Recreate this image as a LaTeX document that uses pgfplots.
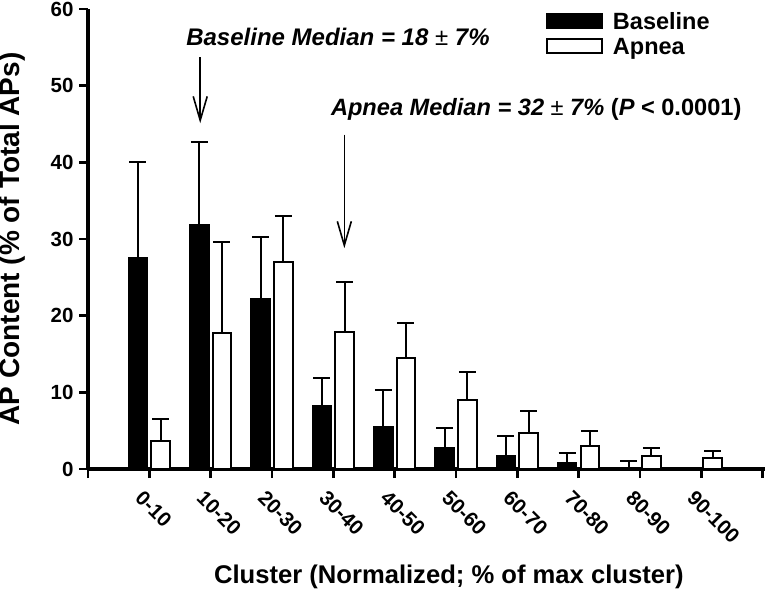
\documentclass[border=0pt]{standalone}
\usepackage{pgfplots}
\pgfplotsset{compat=1.18}
\usepackage{pgfplotstable}
\usepackage{fontspec}
\setmainfont{Liberation Sans}
\usetikzlibrary{arrows.meta}

\pgfplotstableread{
xb xa base berr apn aerr
-0.185 0.185 27.5 12.5 3.7 2.86
0.815 1.185 31.8 10.9 17.7 11.9
1.815 2.185 22.2 8.0 27.0 6.0
2.815 3.185 8.25 3.65 17.9 6.5
3.815 4.185 5.5 4.8 14.5 4.6
4.815 5.185 2.7 2.7 9.0 3.6
5.815 6.185 1.74 2.56 4.73 2.87
6.815 7.185 0.74 1.36 3.0 2.0
7.815 8.185 0.1 0.94 1.7 1.1
8.815 9.185 0.05 0 1.47 0.88
}\datatable

\begin{document}
\begin{tikzpicture}
\begin{axis}[
  name=ax,
  scale only axis, width=677pt, height=460pt,
  xmin=-1, xmax=10.04, ymin=0, ymax=60,
  axis x line*=bottom, axis y line*=left,
  axis line style={-, line width=3.2pt, black},
  x axis line style={-, line width=3.2pt},
  y axis line style={-, line width=3.2pt},
  xtick={-1,0,...,10},
  xticklabels={,0-10,10-20,20-30,30-40,40-50,50-60,60-70,70-80,80-90,90-100,},
  ytick={0,10,...,60},
  tick align=outside, major tick length=9pt,
  tick style={line width=2.8pt, black},
  /pgf/number format/assume math mode=true,
  yticklabel style={font=\fontsize{20.5}{20.5}\selectfont\bfseries, xshift=-2pt},
  xticklabel style={font=\fontsize{20.5}{20.5}\selectfont\bfseries, yshift=-11pt, xshift=-5pt, rotate=-45, anchor=north west, inner sep=0pt},
  every axis y label/.style={at={(axis description cs:-0.1123,0.5)}, rotate=90, anchor=center, font=\fontsize{28}{28}\selectfont\bfseries},
  every axis x label/.style={at={(axis description cs:0.533,-0.235)}, anchor=center, font=\fontsize{25.6}{25.6}\selectfont\bfseries},
  ylabel={AP Content (\% of Total APs)},
  xlabel={Cluster (Normalized; \% of max cluster)},
  legend style={at={(axis description cs:0.6765,0.998)}, anchor=north west, draw=none, fill=none,
    font=\fontsize{23.5}{23.5}\selectfont\bfseries, inner sep=0pt, row sep=5pt,
    nodes={inner sep=2pt, text depth=0pt}},
  legend cell align=left,
]
\addplot[ybar, bar width=18.5pt, bar shift=0pt, fill=black, draw=black, line width=2pt,
  legend image code/.code={\draw[fill=black, draw=black, line width=1.8pt] (0pt,-7pt) rectangle (55pt,7pt);},
  error bars/.cd, y dir=plus, y explicit,
  error bar style={line width=2pt, black},
  error mark options={rotate=90, line width=2pt, black, mark size=8.5pt}]
  table[x=xb, y=base, y error=berr] {\datatable};
\addlegendentry{\hspace*{8pt}Baseline}
\addplot[ybar, bar width=18.5pt, bar shift=0pt, fill=white, draw=black, line width=2pt,
  legend image code/.code={\draw[fill=white, draw=black, line width=1.8pt] (0pt,-7pt) rectangle (55pt,7pt);},
  error bars/.cd, y dir=plus, y explicit,
  error bar style={line width=2pt, black},
  error mark options={rotate=90, line width=2pt, black, mark size=8.5pt}]
  table[x=xa, y=apn, y error=aerr] {\datatable};
\addlegendentry{\hspace*{8pt}Apnea}
\node[anchor=base west, inner sep=0pt, font=\fontsize{24}{24}\selectfont\bfseries\itshape] at (axis cs:0.6,55.3) {Baseline Median = 18 {\upshape\mdseries ±} 7\%};
\node[anchor=base west, inner sep=0pt, font=\fontsize{23.6}{23.6}\selectfont\bfseries\itshape] at (axis cs:2.96,46.1) {Apnea Median = 32 {\upshape\mdseries ±} 7\%{\upshape{} (}P{\upshape{} < 0.0001)}};
\draw[line width=1.6pt, -{Straight Barb[length=24pt,width=14pt]}] (axis cs:0.83,53.7) -- (axis cs:0.83,45.1);
\draw[line width=1.6pt, -{Straight Barb[length=24pt,width=14pt]}] (axis cs:3.18,43.6) -- (axis cs:3.18,28.8);
\end{axis}
\pgfresetboundingbox
\path ([shift={(-88pt,-123pt)}]ax.south west) rectangle ([shift={(0pt,9pt)}]ax.north east);
\end{tikzpicture}
\end{document}
